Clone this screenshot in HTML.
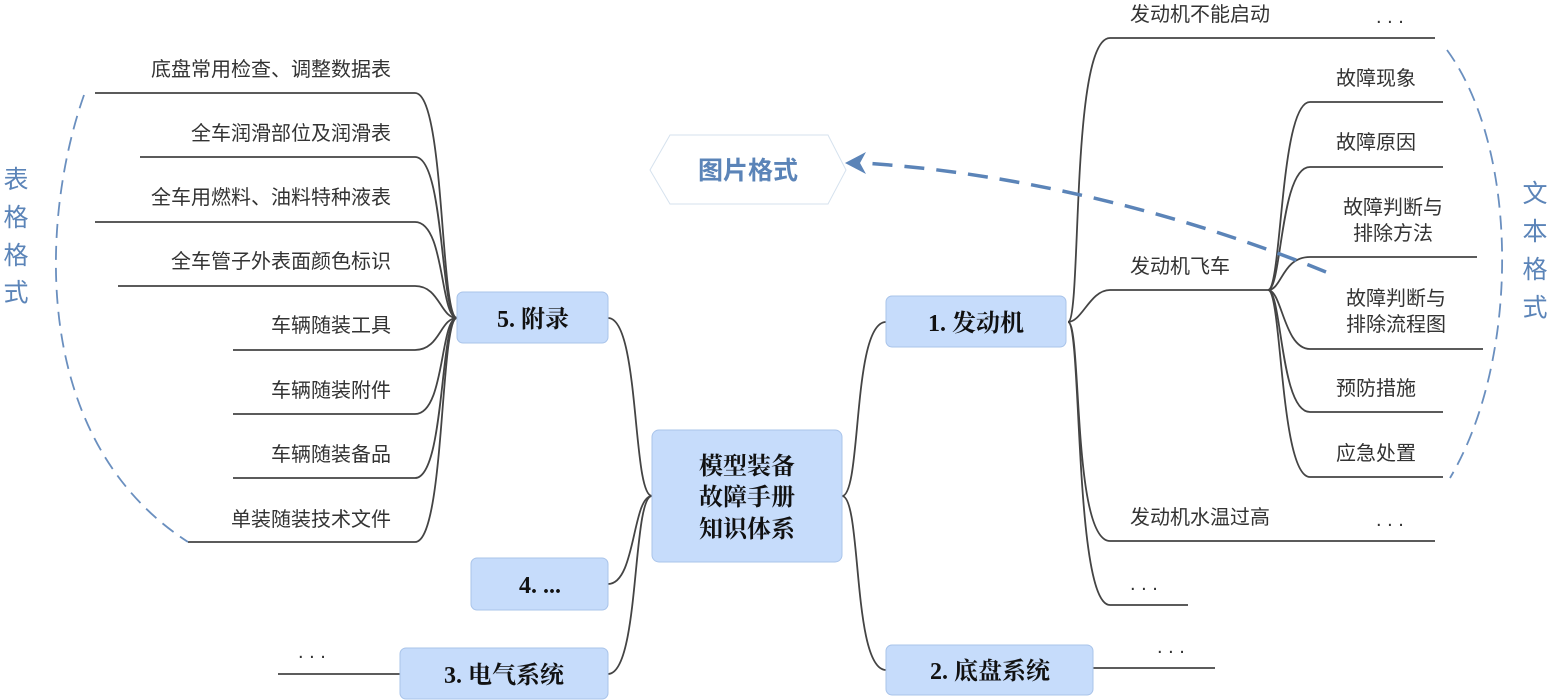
<!DOCTYPE html>
<html><head><meta charset="utf-8"><style>
html,body{margin:0;padding:0;background:#fff;}
svg{display:block;}
.l{font-family:"Liberation Sans","Noto Sans CJK SC",sans-serif;font-size:20px;fill:#333;}
.n{font-family:"Liberation Serif","Noto Serif CJK SC",serif;font-size:24px;font-weight:bold;fill:#111;}
.b{font-family:"Liberation Sans","Noto Sans CJK SC",sans-serif;font-size:25px;fill:#5b84b8;}
</style></head><body>
<svg width="1552" height="700" viewBox="0 0 1552 700" xmlns="http://www.w3.org/2000/svg">
<g fill="none" stroke="#444" stroke-width="1.8">
<!-- center connectors -->
<path d="M842,496 C862,496 852,322 886,322"/>
<path d="M842,496 C862,496 852,670 886,670"/>
<path d="M652,496 C632,496 640,318 608,318"/>
<path d="M652,496 C632,496 636,584 608,584"/>
<path d="M652,496 C632,496 640,674 608,674"/>
<!-- engine branches -->
<path d="M1068,322 C1082,322 1070,38 1110,38 L1435,38"/>
<path d="M1068,322 C1082,322 1090,290 1110,290 L1270,290"/>
<path d="M1068,322 C1082,322 1072,541 1110,541 L1435,541"/>
<path d="M1068,322 C1082,322 1074,605 1110,605 L1188,605"/>
<!-- 飞车 subs -->
<path d="M1268,290 C1282,290 1280,102 1310,102 L1443,102"/>
<path d="M1268,290 C1282,290 1280,167 1310,167 L1443,167"/>
<path d="M1268,290 C1282,290 1282,257 1310,257 L1477,257"/>
<path d="M1268,290 C1282,290 1284,349 1310,349 L1483,349"/>
<path d="M1268,290 C1282,290 1280,412 1310,412 L1443,412"/>
<path d="M1268,290 C1282,290 1280,477 1310,477 L1443,477"/>
<!-- node2 / node3 -->
<path d="M1093,668 L1215,668"/>
<path d="M400,674 L278,674"/>
<!-- appendix children -->
<path d="M457,318 C440,318 445,93 415,93 L95,93"/>
<path d="M457,318 C440,318 445,157 415,157 L140,157"/>
<path d="M457,318 C440,318 445,222 415,222 L95,222"/>
<path d="M457,318 C440,318 440,286 415,286 L118,286"/>
<path d="M457,318 C440,318 440,350 415,350 L233,350"/>
<path d="M457,318 C440,318 445,414 415,414 L233,414"/>
<path d="M457,318 C440,318 445,478 415,478 L233,478"/>
<path d="M457,318 C440,318 445,542 415,542 L188,542"/>
</g>
<!-- dashed arcs -->
<g fill="none" stroke="#6a8fbf" stroke-width="1.8" stroke-dasharray="14,8">
<path d="M84,95 C40,220 30,440 188,542"/>
<path d="M1447,50 C1520,150 1520,360 1450,478"/>
</g>
<!-- dashed arrow -->
<path d="M1326,272 C1150,200 980,170 862,163" fill="none" stroke="#5b84b8" stroke-width="3.5" stroke-dasharray="20,12"/>
<polygon points="845,163 866,152 860,163 866,174" fill="#5b84b8"/>
<!-- nodes -->
<g fill="#c6dcfb" stroke="#a9c4ea" stroke-width="1">
<rect x="652" y="430" width="190" height="132" rx="7"/>
<rect x="886" y="296" width="180" height="51" rx="6"/>
<rect x="886" y="645" width="207" height="50" rx="6"/>
<rect x="400" y="648" width="208" height="51" rx="6"/>
<rect x="471" y="558" width="137" height="52" rx="6"/>
<rect x="457" y="292" width="151" height="51" rx="6"/>
</g>
<polygon points="670,135 828,135 846,170 828,204 670,204 650,170" fill="#fff" stroke="#d6e2ee" stroke-width="1"/>
<text class="b" x="748" y="179" text-anchor="middle" font-weight="bold" font-size="24">图片格式</text>
<g class="n" text-anchor="middle">
<text x="747" y="474">模型装备</text>
<text x="747" y="505">故障手册</text>
<text x="747" y="537">知识体系</text>
<text x="976" y="331">1.  发动机</text>
<text x="990" y="679">2.  底盘系统</text>
<text x="504" y="683">3.  电气系统</text>
<text x="540" y="593">4.  ...</text>
<text x="533" y="327">5.  附录</text>
</g>
<g class="l">
<text x="1130" y="21">发动机不能启动</text>
<text x="1376" y="23">. . .</text>
<text x="1130" y="273">发动机飞车</text>
<text x="1130" y="524">发动机水温过高</text>
<text x="1376" y="526">. . .</text>
<text x="1130" y="590">. . .</text>
<text x="1157" y="653">. . .</text>
<text x="298" y="658">. . .</text>
</g>
<g class="l" text-anchor="middle">
<text x="1376" y="85">故障现象</text>
<text x="1376" y="149">故障原因</text>
<text x="1393" y="214">故障判断与</text>
<text x="1393" y="240">排除方法</text>
<text x="1396" y="305">故障判断与</text>
<text x="1396" y="331">排除流程图</text>
<text x="1376" y="395">预防措施</text>
<text x="1376" y="460">应急处置</text>
</g>
<g class="l" text-anchor="end">
<text x="391" y="76">底盘常用检查、调整数据表</text>
<text x="391" y="140">全车润滑部位及润滑表</text>
<text x="391" y="204">全车用燃料、油料特种液表</text>
<text x="391" y="268">全车管子外表面颜色标识</text>
<text x="391" y="332">车辆随装工具</text>
<text x="391" y="397">车辆随装附件</text>
<text x="391" y="461">车辆随装备品</text>
<text x="391" y="526">单装随装技术文件</text>
</g>
<g class="b" text-anchor="middle">
<text x="16" y="188">表</text>
<text x="16" y="226">格</text>
<text x="16" y="264">格</text>
<text x="16" y="301">式</text>
<text x="1535" y="202">文</text>
<text x="1535" y="240">本</text>
<text x="1535" y="278">格</text>
<text x="1535" y="316">式</text>
</g>
</svg>
</body></html>
